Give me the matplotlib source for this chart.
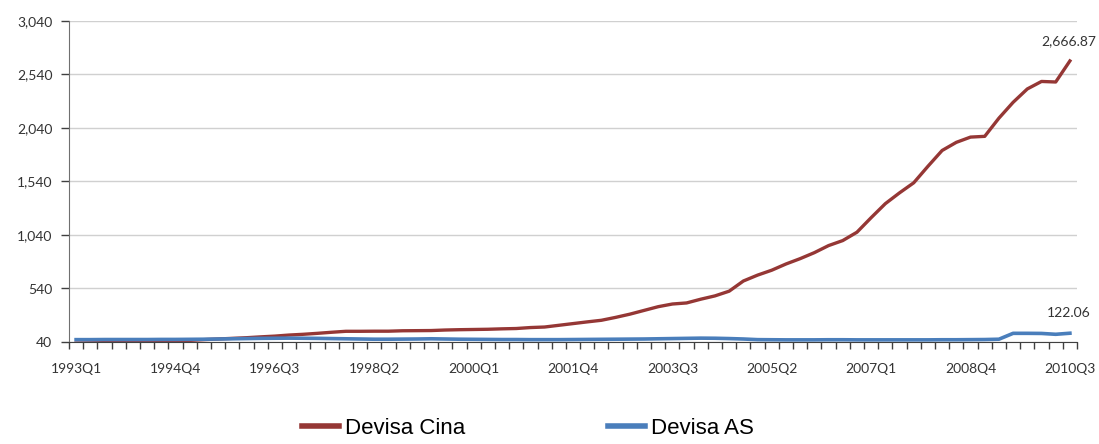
import numpy as np
import matplotlib
matplotlib.use('Agg')
import matplotlib.pyplot as plt
from matplotlib.lines import Line2D

# quarters 1993Q1 .. 2010Q3
quarters = [f'{y}Q{q}' for y in range(1993, 2011) for q in range(1, 5)][:71]

devisa_cina = [
    30, 32, 34, 36, 40, 44, 48, 52, 55, 62,
    68, 74, 80, 88, 95, 105, 112, 121, 131, 140,
    140, 141, 141, 145, 146, 147, 152, 155, 157, 159,
    163, 166, 175, 180, 196, 212, 228, 243, 270, 300,
    335, 370, 395, 405, 440, 471, 515, 610, 665, 711,
    769, 819, 875, 941, 988, 1066, 1202, 1333, 1434, 1528,
    1682, 1830, 1906, 1955, 1962, 2132, 2280, 2405, 2475, 2470,
    2666.87,
]

devisa_as = [
    62, 62, 63, 63, 63, 63, 64, 64, 65, 66,
    68, 70, 72, 74, 75, 76, 75, 74, 72, 70,
    68, 66, 66, 67, 68, 70, 68, 66, 65, 64,
    63, 63, 62, 62, 62, 63, 64, 65, 66, 67,
    68, 70, 72, 74, 76, 75, 72, 68, 62, 61,
    60, 60, 60, 61, 61, 60, 60, 60, 60, 60,
    60, 61, 61, 62, 63, 66, 121, 121, 120, 112,
    122.06,
]

yticks = [40, 540, 1040, 1540, 2040, 2540, 3040]
label_every = 7

red = '#953735'
blue = '#4a7ebb'

fig = plt.figure(figsize=(10.99, 4.44), dpi=100)
ax = fig.add_axes([69 / 1099, 1 - 342 / 444, (1077 - 69) / 1099, (342 - 21) / 444])

x = np.arange(len(quarters))
ax.plot(x, devisa_cina, color=red, lw=2.4, solid_joinstyle='round', zorder=3)
ax.plot(x, devisa_as, color=blue, lw=2.6, solid_joinstyle='round', zorder=4)

ax.set_xlim(-0.5, len(quarters) - 0.5)
ax.set_ylim(yticks[0], yticks[-1])
ax.set_yticks(yticks)
ax.set_yticklabels([f'{v:,}' for v in yticks])
ax.yaxis.grid(True, color='#d0d0d0', lw=1)
ax.set_axisbelow(True)

ax.set_xticks(x[::label_every])
ax.set_xticklabels(quarters[::label_every])
ax.set_xticks(np.arange(len(quarters) + 1) - 0.5, minor=True)
ax.tick_params(axis='x', which='major', length=0, pad=15)
ax.tick_params(axis='x', which='minor', length=5, width=1, color='#404040', direction='out')
ax.tick_params(axis='y', length=6, width=1, color='#404040', pad=6)

for lab in ax.get_xticklabels() + ax.get_yticklabels():
    lab.set_fontfamily(['Lato', 'DejaVu Sans'])
    lab.set_fontsize(10)
    lab.set_color('#333333')

for s in ['top', 'right']:
    ax.spines[s].set_visible(False)
ax.spines['left'].set_color('#707070')
ax.spines['bottom'].set_color('#404040')

ax.annotate('2,666.87', (x[-1], devisa_cina[-1]), xytext=(-1, 10), textcoords='offset points',
            ha='center', va='bottom', fontsize=10, family=['Lato', 'DejaVu Sans'],
            color='#333333', annotation_clip=False)
ax.annotate('122.06', (x[-1], devisa_as[-1]), xytext=(-1, 10), textcoords='offset points',
            ha='center', va='bottom', fontsize=10, family=['Lato', 'DejaVu Sans'],
            color='#333333', annotation_clip=False)

legend_font = {'family': ['Liberation Sans'], 'size': 16}
for handle_x, name, col in [(302, 'Devisa Cina', red), (608, 'Devisa AS', blue)]:
    fig.legend([Line2D([], [], color=col, lw=4)], [name], loc='center left',
               bbox_to_anchor=(handle_x / 1099, 0.035), frameon=False,
               borderpad=0, borderaxespad=0, handlelength=1.65, handletextpad=0.3,
               prop=legend_font)

fig.savefig('out.png', dpi=100)
